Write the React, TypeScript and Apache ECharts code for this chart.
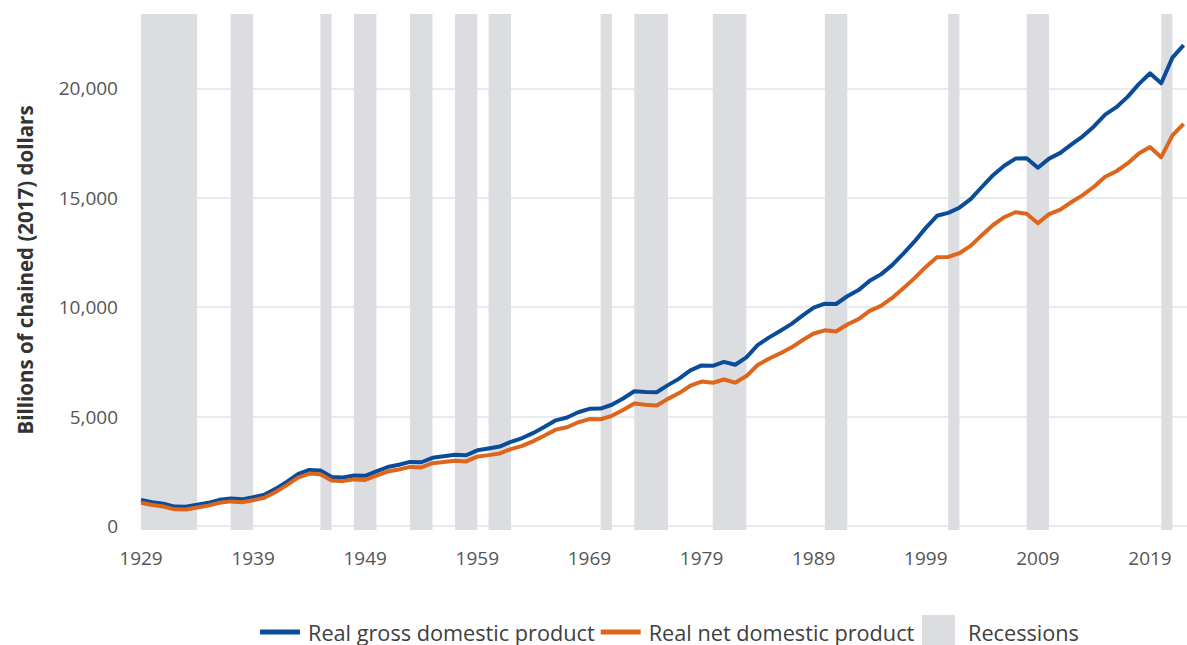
import React, { useEffect, useRef } from "react";
import * as echarts from "echarts";

const FIRST_YEAR = 1929;

const GDP = [
  1191, 1090, 1020, 888, 877, 972, 1059, 1195, 1257, 1218,
  1316, 1430, 1696, 2019, 2373, 2565, 2541, 2240, 2218, 2306,
  2292, 2498, 2695, 2801, 2930, 2914, 3118, 3186, 3255, 3233,
  3458, 3541, 3630, 3849, 4020, 4255, 4532, 4829, 4956, 5199,
  5357, 5369, 5542, 5829, 6159, 6126, 6112, 6438, 6736, 7113,
  7340, 7323, 7504, 7368, 7709, 8265, 8610, 8912, 9225, 9613,
  9977, 10162, 10147, 10500, 10782, 11207, 11500, 11924, 12452, 13007,
  13625, 14178, 14313, 14547, 14938, 15493, 16033, 16467, 16792, 16809,
  16376, 16790, 17052, 17442, 17812, 18262, 18800, 19142, 19612, 20194,
  20692, 20234, 21408, 21980,
];

const NDP = [
  1065, 960, 890, 760, 750, 845, 930, 1065, 1125, 1085,
  1180, 1290, 1550, 1870, 2215, 2395, 2365, 2075, 2050, 2130,
  2105, 2300, 2490, 2585, 2700, 2675, 2870, 2925, 2980, 2950,
  3170, 3240, 3315, 3515, 3665, 3880, 4135, 4405, 4515, 4740,
  4885, 4880, 5035, 5300, 5600, 5545, 5510, 5810, 6075, 6410,
  6600, 6547, 6694, 6550, 6853, 7356, 7646, 7887, 8155, 8488,
  8800, 8943, 8889, 9209, 9456, 9829, 10063, 10422, 10871, 11329,
  11840, 12278, 12295, 12467, 12802, 13293, 13756, 14112, 14340, 14271,
  13838, 14255, 14460, 14808, 15122, 15504, 15961, 16213, 16572, 17024,
  17319, 16855, 17854, 18380,
];

const RECESSIONS: [number, number][] = [
  [1929, 1934], [1937, 1939], [1945, 1946], [1948, 1950], [1953, 1955],
  [1957, 1959], [1960, 1962], [1970, 1971], [1973, 1976], [1980, 1983],
  [1990, 1992], [2001, 2002], [2008, 2010], [2020, 2021],
];

const X_TICKS = [1929, 1939, 1949, 1959, 1969, 1979, 1989, 1999, 2009, 2019];

const GDP_NAME = "Real gross domestic product";
const NDP_NAME = "Real net domestic product";
const REC_NAME = "Recessions";

const BLUE = "#0b4c98";
const ORANGE = "#dd661c";
const BAND = "#dcdde0";
const FONT = "Open Sans";

export default function App() {
  const ref = useRef<HTMLDivElement>(null);
  useEffect(() => {
    if (!ref.current) return;
    const chart = echarts.init(ref.current, undefined, { renderer: "svg" });
    const gdpData = GDP.map((v, i) => [FIRST_YEAR + i, v]);
    const ndpData = NDP.map((v, i) => [FIRST_YEAR + i, v]);
    chart.setOption({
      animation: false,
      backgroundColor: "#ffffff",
      textStyle: { fontFamily: FONT },
      grid: { left: 141, right: 0, top: 14, bottom: 119, containLabel: false },
      legend: [
        {
          data: [
            { name: GDP_NAME, icon: "rect" },
            { name: NDP_NAME, icon: "rect" },
          ],
          left: 260,
          top: 615,
          height: 34,
          itemWidth: 40,
          itemHeight: 5,
          itemGap: 6,
          padding: 0,
          textStyle: {
            fontFamily: FONT,
            fontSize: 21.7,
            color: "#404040",
            lineHeight: 34,
            padding: [0, 0, 0, 3],
          },
          selectedMode: false,
        },
        {
          data: [{ name: REC_NAME, icon: "rect" }],
          left: 922,
          top: 615,
          itemWidth: 33,
          itemHeight: 34,
          padding: 0,
          textStyle: { fontFamily: FONT, fontSize: 21.7, color: "#404040", padding: [0, 0, 0, 8] },
          selectedMode: false,
        },
      ],
      xAxis: {
        type: "value",
        min: 1929,
        max: 2022.3,
        axisLine: { show: false },
        axisTick: { show: false },
        splitLine: { show: false },
        axisLabel: {
          customValues: X_TICKS,
          fontFamily: FONT,
          fontSize: 19,
          color: "#555555",
          margin: 22,
          formatter: (v: number) => String(v),
        },
      },
      yAxis: {
        type: "value",
        min: 0,
        max: 23400,
        interval: 5000,
        name: "Billions of chained (2017) dollars",
        nameLocation: "middle",
        nameGap: 106,
        nameTextStyle: { fontFamily: FONT, fontSize: 20.5, fontWeight: "bold", color: "#333333" },
        axisLine: { show: false },
        axisTick: { show: false },
        axisLabel: {
          showMaxLabel: false,
          fontFamily: FONT,
          fontSize: 19,
          color: "#555555",
          margin: 23,
          formatter: (v: number) => v.toLocaleString("en-US"),
        },
        splitLine: { show: true, showMaxLine: false, lineStyle: { color: "#e2e3e4", width: 1.5 } },
      },
      series: [
        {
          name: REC_NAME,
          type: "custom",
          data: RECESSIONS,
          encode: { x: [0, 1] },
          itemStyle: { color: BAND },
          renderItem: (params: any, api: any) => {
            const x0 = api.coord([api.value(0), 0])[0];
            const x1 = api.coord([api.value(1), 0])[0];
            const cs = params.coordSys;
            return {
              type: "rect",
              shape: { x: x0, y: cs.y, width: x1 - x0, height: cs.height + 4 },
              style: { fill: BAND },
            };
          },
          z: 1,
        },
        {
          name: GDP_NAME,
          type: "line",
          data: gdpData,
          showSymbol: false,
          symbol: "none",
          color: BLUE,
          lineStyle: { color: BLUE, width: 4, join: "round" },
          z: 3,
        },
        {
          name: NDP_NAME,
          type: "line",
          data: ndpData,
          showSymbol: false,
          symbol: "none",
          color: ORANGE,
          lineStyle: { color: ORANGE, width: 4, join: "round" },
          z: 3,
        },
      ],
    });
    return () => chart.dispose();
  }, []);
  return (
    <div
      ref={ref}
      style={{ position: "absolute", left: 0, top: 0, width: 1187, height: 645 }}
    />
  );
}
